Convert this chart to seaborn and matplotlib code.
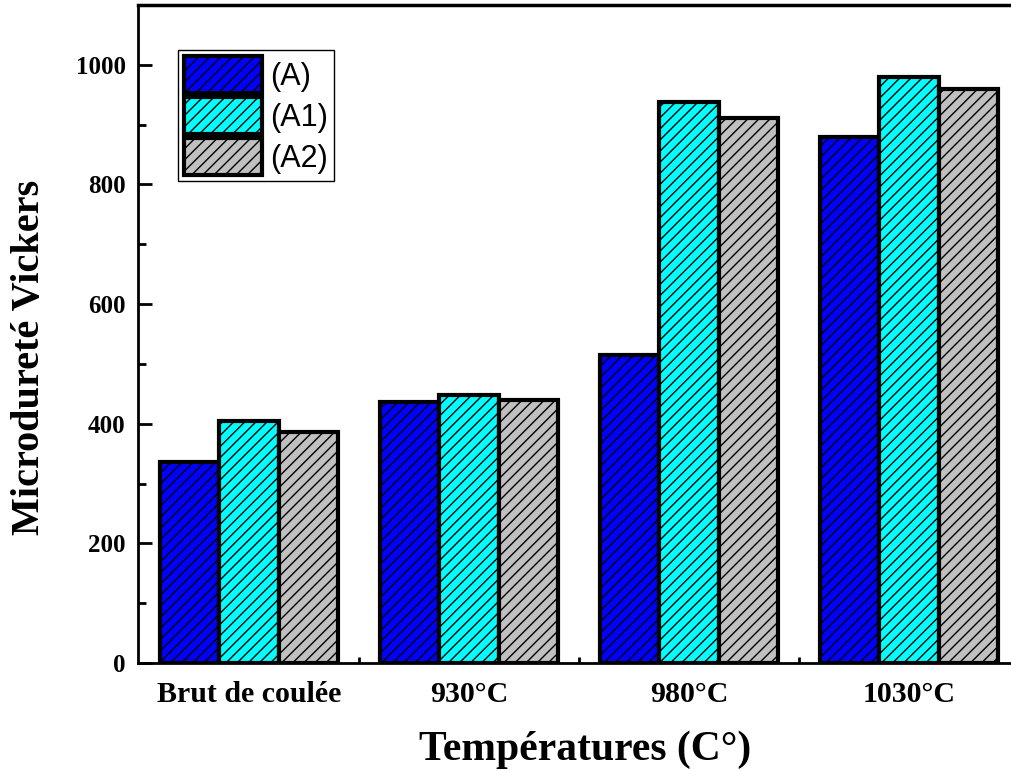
import numpy as np
import pandas as pd
import matplotlib
matplotlib.use("Agg")
import matplotlib.pyplot as plt
import seaborn as sns
from matplotlib.ticker import MultipleLocator, FixedLocator

# Microhardness data per heat-treatment condition
categories = ["Brut de coulée", "930°C", "980°C", "1030°C"]
series_names = ["(A)", "(A1)", "(A2)"]
hv_A = [336, 436, 515, 880]
hv_A1 = [405, 448, 938, 980]
hv_A2 = [386, 440, 911, 960]
colors = ["#0000FF", "#00FFFF", "#C0C0C0"]

df = pd.DataFrame({
    "Température": categories * 3,
    "Série": np.repeat(series_names, len(categories)),
    "HV": hv_A + hv_A1 + hv_A2,
})

sns.set_style("ticks")
plt.rcParams["font.family"] = ["Liberation Serif", "DejaVu Serif"]
plt.rcParams["hatch.linewidth"] = 1.0
plt.rcParams["hatch.color"] = "black"
for key in ["text.color", "axes.labelcolor", "xtick.color", "ytick.color",
            "axes.edgecolor"]:
    plt.rcParams[key] = "black"

fig = plt.figure(figsize=(10.11, 7.71), dpi=100)
ax = fig.add_axes([138 / 1011, 108 / 771, 873 / 1011, 658 / 771])

sns.barplot(data=df, x="Température", y="HV", hue="Série", palette=colors,
            width=0.81, edgecolor="black", linewidth=3, saturation=1,
            errorbar=None, ax=ax)

for bar in ax.patches:
    bar.set_hatch("///")

# legend with hatched patches
handles, labels = ax.get_legend_handles_labels()
for h in handles:
    h.set_hatch("///")
    h.set_edgecolor("black")
    h.set_linewidth(3)
leg = ax.legend(handles, labels, loc="upper left",
                bbox_to_anchor=(178 / 1011, 1 - 50 / 771),
                bbox_transform=fig.transFigure,
                prop=dict(family="Liberation Sans", size=22),
                handlelength=2.55, handleheight=1.5, labelspacing=0.12,
                handletextpad=0.25, borderpad=0.2, borderaxespad=0,
                frameon=True, fancybox=False, framealpha=1)
leg.get_frame().set_edgecolor("black")
leg.get_frame().set_linewidth(1.0)
for t in leg.get_texts():
    t.set_color("black")

# axes limits and ticks
ax.set_ylim(0, 1100)
ax.set_xlim(-0.5045, 3.4636)
ax.yaxis.set_major_locator(MultipleLocator(200))
ax.yaxis.set_minor_locator(MultipleLocator(100))
ax.xaxis.set_minor_locator(FixedLocator([0.5, 1.5, 2.5]))
ax.tick_params(axis="y", which="major", direction="in", length=10, width=2,
               labelsize=18, pad=9)
ax.tick_params(axis="y", which="minor", direction="in", length=6, width=2)
ax.tick_params(axis="x", which="major", direction="in", length=7, width=2,
               labelsize=21.5, pad=13)
ax.tick_params(axis="x", which="minor", direction="in", length=4, width=2)
plt.setp(ax.get_yticklabels(), fontweight="bold")
plt.setp(ax.get_xticklabels(), fontweight="bold")

ax.spines["right"].set_visible(False)
ax.spines["left"].set_linewidth(2)
ax.spines["top"].set_linewidth(2.5)
ax.spines["bottom"].set_linewidth(2)

ax.set_ylabel("Microdureté Vickers", fontsize=29, fontweight="bold", va="center")
ax.yaxis.set_label_coords(-0.124, 0.465)
ax.set_xlabel("Températures (C°)", fontsize=30, fontweight="bold", va="center")
ax.xaxis.set_label_coords(0.512, -0.132)

fig.savefig("out.png", dpi=100)
